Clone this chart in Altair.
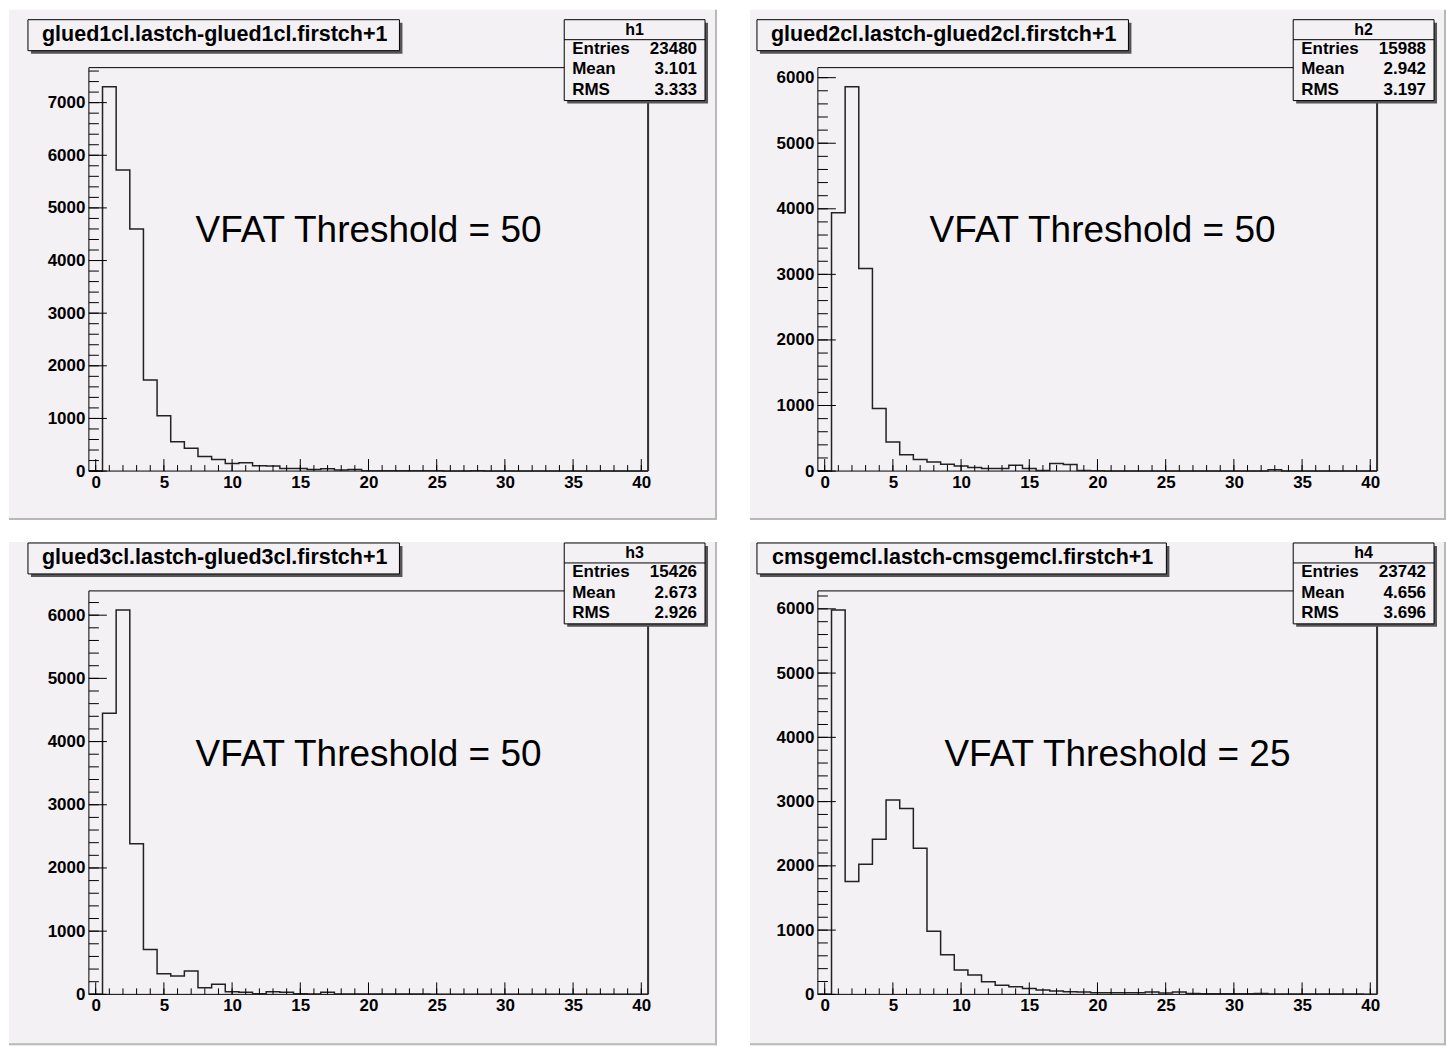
import altair as alt
import pandas as pd

# ------------------------------------------------------------------ data
# bin contents, one value per integer cluster size 0..40 (bins of width 1)
h1_counts = [0, 7300, 5720, 4600, 1730, 1050, 555, 435, 275, 220, 146, 160, 100, 95, 51, 51,
             32, 45, 19, 30, 6, 6, 6, 6, 6, 6, 0, 0, 6, 0, 0, 0, 0, 0, 0, 0, 0, 0, 0, 0, 0]
h2_counts = [0, 3940, 5860, 3090, 955, 445, 250, 175, 140, 105, 77, 56, 41, 41, 90, 40,
             10, 117, 100, 10, 5, 0, 0, 0, 0, 0, 0, 0, 0, 0, 0, 0, 0, 20, 0, 0, 0, 0, 0, 0, 0]
h3_counts = [0, 4450, 6080, 2385, 710, 327, 290, 368, 105, 158, 42, 32, 10, 42, 32, 10,
             5, 32, 5, 5, 5, 5, 5, 5, 5, 0, 0, 0, 0, 0, 0, 0, 0, 0, 0, 0, 0, 0, 0, 0, 0]
h4_counts = [0, 5980, 1757, 2026, 2413, 3023, 2894, 2274, 982, 615, 380, 300, 196, 142, 119, 90,
             67, 52, 41, 36, 26, 26, 26, 26, 36, 20, 36, 15, 10, 10, 10, 10, 15, 5, 5, 5, 5, 5, 5, 5, 0]

panel_titles = ["glued1cl.lastch-glued1cl.firstch+1",
                "glued2cl.lastch-glued2cl.firstch+1",
                "glued3cl.lastch-glued3cl.firstch+1",
                "cmsgemcl.lastch-cmsgemcl.firstch+1"]
hist_names = ["h1", "h2", "h3", "h4"]
entries = [23480, 15988, 15426, 23742]
means = [3.101, 2.942, 2.673, 4.656]
rms_values = [3.333, 3.197, 2.926, 3.696]
thresholds = [50, 50, 50, 25]

x_major_ticks = [0, 5, 10, 15, 20, 25, 30, 35, 40]
x_minor_ticks = list(range(0, 41))
y_major_step = 1000
y_minor_step = 200

# ------------------------------------------------------------------ style
FONT = "Liberation Sans"
BG = "#f4f1f5"
W, H = 560, 404
one = pd.DataFrame({"k": [0]})


def rect(x1, x2, y1, y2, **kw):
    return alt.Chart(one).mark_rect(**kw).encode(
        x=alt.value(x1), x2=alt.value(x2), y=alt.value(y1), y2=alt.value(y2))


def rule(x1, x2, y1, y2, color, width):
    return alt.Chart(one).mark_rule(color=color, strokeWidth=width).encode(
        x=alt.value(x1), x2=alt.value(x2), y=alt.value(y1), y2=alt.value(y2))


def txt(s, x, y, size, weight="bold", align="center"):
    return alt.Chart(one).mark_text(
        text=s, font=FONT, fontSize=size, fontWeight=weight, align=align,
        baseline="middle", color="black").encode(x=alt.value(x), y=alt.value(y))


def panel(i, counts, bg_x1, bg_y1, bg_y2, title_w, vfat_x):
    n = len(counts)
    edges = [k - 0.5 for k in range(n)] + [n - 0.5]
    vals = list(counts) + [0]
    hist = pd.DataFrame({"edge": edges, "count": vals})
    ymax = max(counts) * 1.05

    xs = alt.Scale(domain=[-0.5, n - 0.5], nice=False, zero=False)
    ys = alt.Scale(domain=[0, ymax], nice=False)
    y_major = list(range(0, int(ymax) + 1, y_major_step))
    y_minor = list(range(0, int(ymax) + 1, y_minor_step))
    xaxis = alt.Axis(values=x_major_ticks, ticks=False, domain=False, grid=False, format="d",
                     labelFont=FONT, labelFontSize=17, labelFontWeight="bold",
                     labelColor="black", labelPadding=3, title=None, labelFlush=False,
                     zindex=2)
    yaxis = alt.Axis(values=y_major, ticks=False, domain=False, grid=False, format="d",
                     labelFont=FONT, labelFontSize=17, labelFontWeight="bold",
                     labelColor="black", labelPadding=4, title=None, labelFlush=False,
                     zindex=2)

    layers = []
    # pad background + border shadow
    layers.append(rect(bg_x1, 629, bg_y1, bg_y2, fill=BG))
    layers.append(rule(628, 628, bg_y1, bg_y2, "#b8b8b8", 2))
    layers.append(rule(bg_x1, 629, bg_y2 - 1, bg_y2 - 1, "#b8b8b8", 2))
    # frame
    layers.append(rect(0, W, 0, H, fill="transparent", stroke="black", strokeWidth=1))
    layers.append(rule(W, W, 0, H, "#333333", 2))
    # histogram outline
    layers.append(alt.Chart(hist).mark_line(interpolate="step-after", color="#222222",
                                            strokeWidth=1.5).encode(
        x=alt.X("edge:Q", scale=xs, axis=xaxis),
        y=alt.Y("count:Q", scale=ys, axis=yaxis)))
    # ticks pointing inwards
    xt_min = pd.DataFrame({"t": x_minor_ticks})
    xt_maj = pd.DataFrame({"t": x_major_ticks})
    yt_min = pd.DataFrame({"t": y_minor})
    yt_maj = pd.DataFrame({"t": y_major})
    layers.append(alt.Chart(xt_min).mark_rule(color="black", strokeWidth=1).encode(
        x=alt.X("t:Q", scale=xs, axis=xaxis), y=alt.value(H), y2=alt.value(H - 6)))
    layers.append(alt.Chart(xt_maj).mark_rule(color="black", strokeWidth=1).encode(
        x=alt.X("t:Q", scale=xs, axis=xaxis), y=alt.value(H), y2=alt.value(H - 12)))
    layers.append(alt.Chart(yt_min).mark_rule(color="black", strokeWidth=1).encode(
        y=alt.Y("t:Q", scale=ys, axis=yaxis), x=alt.value(0), x2=alt.value(10)))
    layers.append(alt.Chart(yt_maj).mark_rule(color="black", strokeWidth=1).encode(
        y=alt.Y("t:Q", scale=ys, axis=yaxis), x=alt.value(0), x2=alt.value(18)))
    # title box
    tx1, tx2, ty1, ty2 = -61, -61 + title_w, -48, -17
    layers.append(rect(tx1 + 3, tx2 + 3, ty1 + 3, ty2 + 3, fill="#555555"))
    layers.append(rect(tx1, tx2, ty1, ty2, fill=BG, stroke="black", strokeWidth=1))
    layers.append(txt(panel_titles[i], (tx1 + tx2) / 2 + 1, (ty1 + ty2) / 2, 21.5))
    # stats box
    sx1, sx2, sy1, sy2 = 476, 617, -48, 33
    layers.append(rect(sx1 + 3, sx2 + 3, sy1 + 3, sy2 + 3, fill="#555555"))
    layers.append(rect(sx1, sx2, sy1, sy2, fill=BG, stroke="black", strokeWidth=1))
    layers.append(rule(sx1, sx2, -28, -28, "black", 1))
    layers.append(txt(hist_names[i], (sx1 + sx2) / 2, -38, 16))
    rows = [("Entries", f"{entries[i]}"), ("Mean", f"{means[i]:.3f}"), ("RMS", f"{rms_values[i]:.3f}")]
    for r, (lab, val) in enumerate(rows):
        yy = -18.5 + r * 20.3
        layers.append(txt(lab, sx1 + 8, yy, 17, align="left"))
        layers.append(txt(val, sx2 - 8, yy, 17, align="right"))
    # annotation
    layers.append(txt(f"VFAT Threshold = {thresholds[i]}", vfat_x, 164, 37, weight="normal"))

    return alt.layer(*layers).properties(width=W, height=H)


p1 = panel(0, h1_counts, -80, -58, 453, 372, 280)
p2 = panel(1, h2_counts, -68, -58, 453, 372, 285)
p3 = panel(2, h3_counts, -80, -49, 455, 372, 280)
p4 = panel(3, h4_counts, -68, -49, 455, 410, 300)

chart = alt.concat(p1, p2, p3, p4, columns=2,
                   spacing={"row": 120, "column": 170},
                   bounds="flush",
                   padding={"left": 8, "top": 8, "right": 0, "bottom": 5},
                   background="white").configure_view(strokeWidth=0)

chart.save("out.html", embed_options={"renderer": "svg", "actions": False})
